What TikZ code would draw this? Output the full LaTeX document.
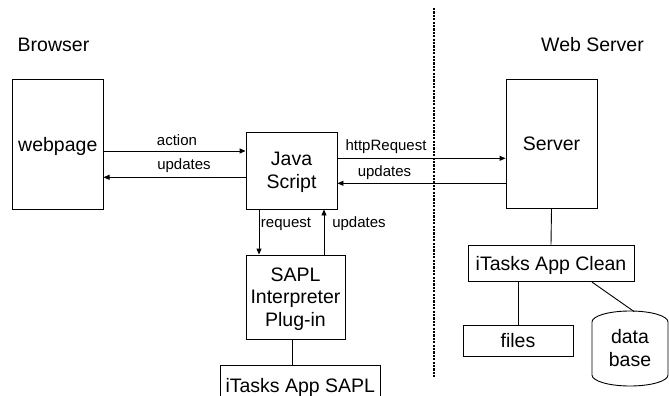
\documentclass[tikz,border=0pt]{standalone}
\usepackage{fontspec}
\setmainfont{Liberation Sans}
\usetikzlibrary{arrows.meta}
\begin{document}
\begin{tikzpicture}[x=1pt,y=-1pt,
  line width=0.9pt,
  box/.style={draw, rectangle, inner sep=0pt, align=center, text depth=0pt,
    font=\fontsize{19.5}{22.5}\selectfont},
  lbl/.style={font=\fontsize{15}{17}\selectfont, inner sep=0pt},
  title/.style={font=\fontsize{19.5}{22}\selectfont, inner sep=0pt},
  arr/.style={-{Triangle[length=6pt,width=5pt]}},
  link/.style={draw}]
\clip (0,0) rectangle (669,396);

% side titles
\node[title] (browser) at (53.5,45) {Browser};
\node[title] (websrv) at (592.5,45) {Web Server};

% client-server boundary
\draw[line width=2.2pt, dash pattern=on 2.2pt off 1.2pt] (434,8) -- (434,378);

% boxes
\node[box, minimum width=90.5pt, minimum height=129.5pt] (webpage) at (57.8,144.3) {webpage};
\node[box, minimum width=91pt, minimum height=77pt] (js) at (291.5,170.5) {Java\\Script};
\node[box, minimum width=91pt, minimum height=129pt] (server) at (551.5,143.8) {Server};
\node[box, minimum width=99pt, minimum height=84pt] (sapl) at (295.5,297) {SAPL\\Interpreter\\Plug-in};
\node[box, minimum width=159.3pt, minimum height=40pt] (itsapl) at (300.3,385) {iTasks App SAPL};
\node[box, minimum width=166pt, minimum height=36.7pt] (itclean) at (551,263.3) {iTasks App Clean};
\node[box, minimum width=110pt, minimum height=31.7pt] (files) at (518,340.8) {files};

% database cylinder (y axis points down, so arcs run the other way)
\draw (592,322) -- (592,375) arc[start angle=180, end angle=0, x radius=38, y radius=11]
      -- (668,322) arc[start angle=0, end angle=-180, x radius=38, y radius=11];
\node[box, draw=none] (db) at (630,348) {data\\base};
\coordinate (dbtop) at (634,311.5);

% browser-side messages
\draw[arr] (webpage.east |- 0,151) -- (js.west |- 0,151);
\node[lbl] at (177,140) {action};
\draw[arr] (js.west |- 0,177.3) -- (webpage.east |- 0,177.3);
\node[lbl] at (184,166) {updates};

% client-server messages
\draw[arr] (js.east |- 0,158.3) -- (server.west |- 0,158.3);
\node[lbl] at (386,147) {httpRequest};
\draw[arr] (server.west |- 0,183.3) -- (js.east |- 0,183.3);
\node[lbl] at (384.5,172.7) {updates};

% script-interpreter messages
\draw[arr] (js.south -| 259,0) -- (sapl.north -| 259,0);
\node[lbl] at (286,224) {request};
\draw[arr] (sapl.north -| 324,0) -- (js.south -| 324,0);
\node[lbl] at (359,224) {updates};

% plain links
\draw (sapl.south -| 292,0) -- (itsapl.north -| 292,0);
\draw (server.south) -- (itclean.north);
\draw (files.north |- itclean.south) -- (files.north);
\draw (itclean.south -| 592,0) -- (dbtop);
\end{tikzpicture}
\end{document}
